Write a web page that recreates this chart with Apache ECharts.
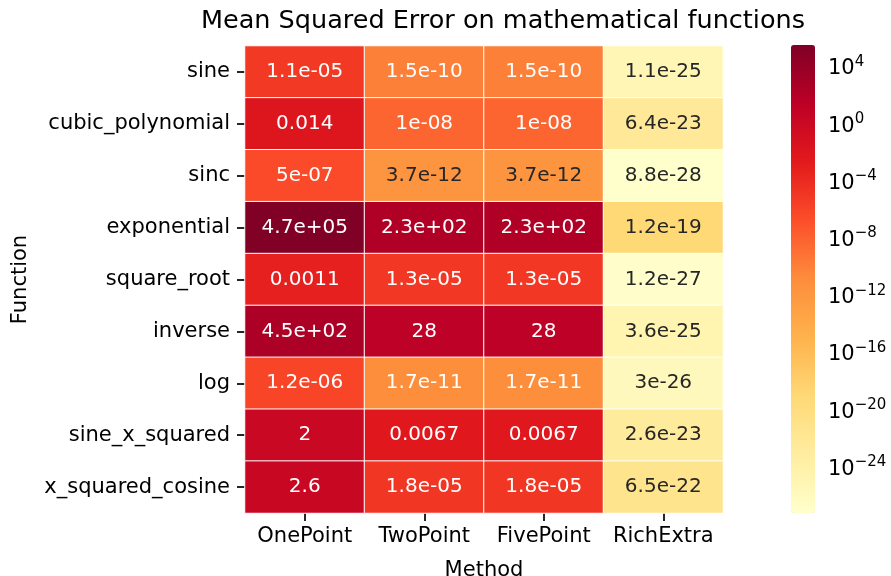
<!DOCTYPE html>
<html>
<head>
<meta charset="utf-8">
<script src="https://cdn.jsdelivr.net/npm/echarts@6/dist/echarts.min.js"></script>
<style>html,body{margin:0;padding:0;background:#fff}#c{width:891px;height:576px}</style>
</head>
<body>
<div id="c"></div>
<script>
const functions = ['sine','cubic_polynomial','sinc','exponential','square_root','inverse','log','sine_x_squared','x_squared_cosine'];
const methods = ['OnePoint','TwoPoint','FivePoint','RichExtra'];
const onePoint  = [1.1e-5, 0.014, 5e-7, 4.7e5, 0.0011, 450, 1.2e-6, 2, 2.6];
const twoPoint  = [1.5e-10, 1e-8, 3.7e-12, 230, 1.3e-5, 28, 1.7e-11, 0.0067, 1.8e-5];
const fivePoint = [1.5e-10, 1e-8, 3.7e-12, 230, 1.3e-5, 28, 1.7e-11, 0.0067, 1.8e-5];
const richExtra = [1.1e-25, 6.4e-23, 8.8e-28, 1.2e-19, 1.2e-27, 3.6e-25, 3e-26, 2.6e-23, 6.5e-22];
const colorbarExponents = [4, 0, -4, -8, -12, -16, -20, -24];

const columns = [onePoint, twoPoint, fivePoint, richExtra];
const palette = ['#ffffcc','#ffeda0','#fed976','#feb24c','#fd8d3c','#fc4e2a','#e31a1c','#bd0026','#800026'];
const FONT = 'DejaVu Sans';

const all = columns.flat();
const logMin = Math.log10(Math.min(...all));
const logMax = Math.log10(Math.max(...all));

function hexToRgb(h){return [parseInt(h.slice(1,3),16),parseInt(h.slice(3,5),16),parseInt(h.slice(5,7),16)];}
function cmap(t){
  t = Math.max(0, Math.min(1, t));
  const s = t * (palette.length - 1);
  const i = Math.min(Math.floor(s), palette.length - 2);
  const f = s - i;
  const a = hexToRgb(palette[i]), b = hexToRgb(palette[i+1]);
  return a.map((v,k)=> v + (b[k]-v)*f);
}
function luminance(rgb){
  const c = rgb.map(v=>{v/=255; return v<=0.03928? v/12.92 : Math.pow((v+0.055)/1.055,2.4);});
  return 0.2126*c[0]+0.7152*c[1]+0.0722*c[2];
}
function fmtG(v){
  const ex = v.toExponential(1);
  let [m, e] = ex.split('e');
  const exp = parseInt(e,10);
  if (exp < -4 || exp >= 2){
    m = m.replace(/\.0$/,'');
    const sign = exp < 0 ? '-' : '+';
    const ae = Math.abs(exp);
    return m + 'e' + sign + (ae < 10 ? '0' + ae : '' + ae);
  }
  return String(Number(v.toPrecision(2)));
}

const data = [];
columns.forEach((col, ci) => {
  col.forEach((v, ri) => {
    const lg = Math.log10(v);
    const rgb = cmap((lg - logMin) / (logMax - logMin));
    const txt = luminance(rgb) > 0.408 ? '#262626' : '#ffffff';
    data.push({value:[ci, ri, lg, v], label:{color: txt}});
  });
});

const chart = echarts.init(document.getElementById('c'), null, {renderer:'canvas'});
chart.setOption({
  animation:false,
  backgroundColor:'#ffffff',
  textStyle:{fontFamily:FONT},
  graphic:[{
    type:'text', x:503, y:8,
    style:{text:'Mean Squared Error on mathematical functions', fontFamily:FONT, fontSize:25.5, fill:'#000', textAlign:'center', textVerticalAlign:'top'}
  }],
  grid:[
    {left:245, right:168, top:46, bottom:63, outerBoundsMode:'none', containLabel:false},
    {left:791, width:24, top:45, height:468, outerBoundsMode:'none', containLabel:false}
  ],
  xAxis:[
    {type:'category', data:methods, gridIndex:0, position:'bottom',
     name:'Method', nameLocation:'middle', nameGap:47,
     nameTextStyle:{fontFamily:FONT, fontSize:21, color:'#000'},
     axisLine:{show:true, lineStyle:{color:'#ffffff', width:2}}, splitLine:{show:false}, splitArea:{show:false},
     axisTick:{show:true, inside:false, alignWithLabel:true, interval:0, length:8, lineStyle:{color:'#262626', width:2}},
     axisLabel:{fontFamily:FONT, fontSize:21, color:'#000', margin:13, interval:0}},
    {type:'value', gridIndex:1, show:false, min:0, max:1}
  ],
  yAxis:[
    {type:'category', data:functions, gridIndex:0, inverse:true,
     name:'Function', nameLocation:'middle', nameGap:214, nameRotate:90,
     nameTextStyle:{fontFamily:FONT, fontSize:21, color:'#000'},
     axisLine:{show:true, lineStyle:{color:'#ffffff', width:2}}, splitLine:{show:false}, splitArea:{show:false},
     axisTick:{show:true, inside:false, alignWithLabel:true, interval:0, length:8, lineStyle:{color:'#262626', width:2}},
     axisLabel:{fontFamily:FONT, fontSize:21, color:'#000', margin:15, interval:0}},
    {type:'value', gridIndex:1, position:'right', min:logMin, max:logMax,
     axisLine:{show:false}, splitLine:{show:false},
     axisTick:{show:true, length:7, customValues:colorbarExponents, lineStyle:{color:'#1a1a1a', width:1.3}},
     axisLabel:{customValues:colorbarExponents, margin:13,
       formatter:function(v){ const e = Math.round(v); return '{b|10}{s|' + (e<0 ? '\u2212' + (-e) : e) + '}'; },
       rich:{b:{fontFamily:FONT, fontSize:21, color:'#000'}, s:{fontFamily:FONT, fontSize:15, color:'#000', padding:[0,0,14,0]}}}}
  ],
  visualMap:{
    type:'continuous', min:logMin, max:logMax, dimension:2, seriesIndex:0,
    calculable:false, showLabel:false, text:null,
    orient:'vertical', left:791, top:45, itemWidth:24, itemHeight:468, padding:0,
    inRange:{color:palette}
  },
  series:[{
    type:'heatmap', xAxisIndex:0, yAxisIndex:0, data:data,
    itemStyle:{borderColor:'#ffffff', borderWidth:1},
    label:{show:true, fontFamily:FONT, fontSize:20, formatter:function(p){return fmtG(p.value[3]);}},
    emphasis:{disabled:true}
  }]
});
</script>
</body>
</html>
